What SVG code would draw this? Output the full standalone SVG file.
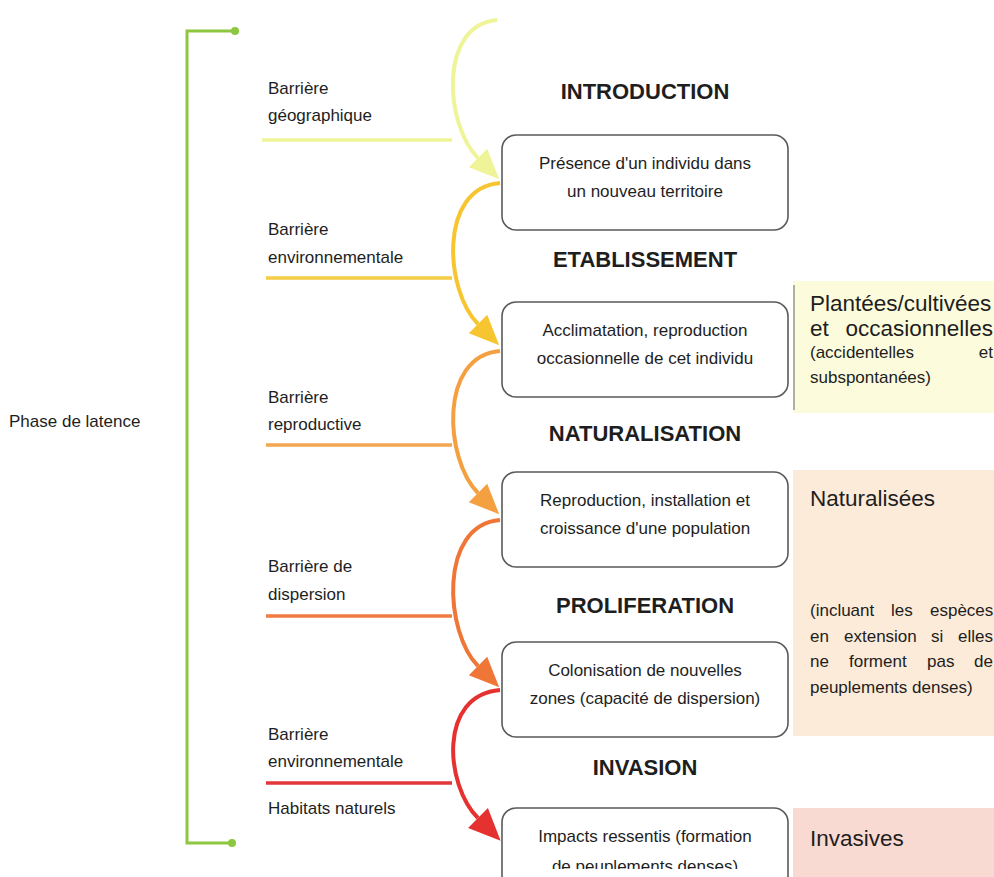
<svg xmlns="http://www.w3.org/2000/svg" width="994" height="877" viewBox="0 0 994 877">
<style>
  .lbl{font-family:"Liberation Sans",Arial,sans-serif;font-size:17px;fill:#1e1e1e}
  .hd{font-family:"Liberation Sans",Arial,sans-serif;font-size:22px;font-weight:bold;fill:#1e1e1e;text-anchor:middle}
  .bx{font-family:"Liberation Sans",Arial,sans-serif;font-size:17px;fill:#1e1e1e;text-anchor:middle}
  .big{font-family:"Liberation Sans",Arial,sans-serif;font-size:22.5px;fill:#1e1e1e}
  .box{fill:#ffffff;stroke:#5a5a5a;stroke-width:1.6}
  .arc{fill:none;stroke-width:4}
  .bar{fill:none;stroke-width:3.5}
</style>
<defs>
  <marker id="a1" markerUnits="userSpaceOnUse" markerWidth="32" markerHeight="28" refX="0" refY="0" orient="auto" overflow="visible"><path d="M0,-13 L30,0 L0,13 z" fill="#eef497"/></marker>
  <marker id="a2" markerUnits="userSpaceOnUse" markerWidth="32" markerHeight="28" refX="0" refY="0" orient="auto" overflow="visible"><path d="M0,-13 L30,0 L0,13 z" fill="#f6c530"/></marker>
  <marker id="a3" markerUnits="userSpaceOnUse" markerWidth="32" markerHeight="28" refX="0" refY="0" orient="auto" overflow="visible"><path d="M0,-13 L30,0 L0,13 z" fill="#f5a040"/></marker>
  <marker id="a4" markerUnits="userSpaceOnUse" markerWidth="32" markerHeight="28" refX="0" refY="0" orient="auto" overflow="visible"><path d="M0,-13 L30,0 L0,13 z" fill="#ef7637"/></marker>
  <marker id="a5" markerUnits="userSpaceOnUse" markerWidth="32" markerHeight="28" refX="0" refY="0" orient="auto" overflow="visible"><path d="M0,-14 L32,0 L0,14 z" fill="#e5312f"/></marker>
  <clipPath id="cut"><rect x="0" y="0" width="994" height="869"/></clipPath>
</defs>
<rect width="994" height="877" fill="#ffffff"/>

<!-- right panels -->
<g id="panel-plantees">
  <rect x="793" y="281" width="201" height="132" fill="#fcfcdc"/>
  <line x1="794" y1="285" x2="794" y2="410" stroke="#b0b0a0" stroke-width="2"/>
  <text class="big" x="810" y="311">Plantées/cultivées</text>
  <text class="big" x="810" y="336">et</text>
  <text class="big" x="993" y="336" text-anchor="end">occasionnelles</text>
  <text class="lbl" x="810" y="358">(accidentelles</text>
  <text class="lbl" x="993" y="358" text-anchor="end">et</text>
  <text class="lbl" x="810" y="383">subspontanées)</text>
</g>
<g id="panel-naturalisees">
  <rect x="793" y="470" width="201" height="266" fill="#fcebd8"/>
  <text class="big" x="810" y="506">Naturalisées</text>
  <text class="lbl" y="616"><tspan x="810">(incluant</tspan><tspan x="891">les</tspan><tspan x="930">espèces</tspan></text>
  <text class="lbl" y="642"><tspan x="810">en</tspan><tspan x="844">extension</tspan><tspan x="931">si</tspan><tspan x="958">elles</tspan></text>
  <text class="lbl" y="667"><tspan x="810">ne</tspan><tspan x="849">forment</tspan><tspan x="927">pas</tspan><tspan x="974">de</tspan></text>
  <text class="lbl" x="810" y="693">peuplements denses)</text>
</g>
<g id="panel-invasives">
  <rect x="793" y="808" width="201" height="69" fill="#f9dad2"/>
  <text class="big" x="810" y="846">Invasives</text>
</g>

<!-- bracket -->
<g id="phase-latence">
  <path d="M235,31 H187 V843 H232" fill="none" stroke="#8dc63f" stroke-width="3"/>
  <circle cx="235" cy="31" r="4" fill="#8dc63f"/>
  <circle cx="232" cy="843" r="4" fill="#8dc63f"/>
  <text class="lbl" x="9" y="427">Phase de latence</text>
</g>

<!-- connectors -->
<g id="connectors">
  <path class="bar" d="M262,140 H452" stroke="#eef497"/>
  <path class="bar" d="M266,278 H452" stroke="#f4cd45"/>
  <path class="bar" d="M266,445 H452" stroke="#f4a650"/>
  <path class="bar" d="M266,616 H452" stroke="#ef7c40"/>
  <path class="bar" d="M266,783 H452" stroke="#e3363a" stroke-width="4.5"/>
  <path class="arc" d="M497,20 C438,25 445,125 478,158" stroke="#eef497" marker-end="url(#a1)"/>
  <path class="arc" d="M500,183 C438,188 445,291 478,324" stroke="#f6c530" marker-end="url(#a2)"/>
  <path class="arc" d="M500,351 C438,356 445,460 478,493" stroke="#f5a040" marker-end="url(#a3)"/>
  <path class="arc" d="M500,520 C438,525 445,633 478,666" stroke="#ef7637" marker-end="url(#a4)"/>
  <path class="arc" d="M500,690 C438,695 445,785 478,818" stroke="#e5312f" stroke-width="5" marker-end="url(#a5)"/>
</g>

<!-- barrier labels -->
<g id="barriere-geographique"><text class="lbl" x="268" y="94">Barrière</text><text class="lbl" x="268" y="121">géographique</text></g>
<g id="barriere-environnementale-1"><text class="lbl" x="268" y="235">Barrière</text><text class="lbl" x="268" y="263">environnementale</text></g>
<g id="barriere-reproductive"><text class="lbl" x="268" y="403">Barrière</text><text class="lbl" x="268" y="430">reproductive</text></g>
<g id="barriere-dispersion"><text class="lbl" x="268" y="572">Barrière de</text><text class="lbl" x="268" y="600">dispersion</text></g>
<g id="barriere-environnementale-2"><text class="lbl" x="268" y="740">Barrière</text><text class="lbl" x="268" y="767">environnementale</text><text class="lbl" x="268" y="814">Habitats naturels</text></g>

<!-- stages -->
<g id="introduction">
  <text class="hd" x="645" y="99">INTRODUCTION</text>
  <rect class="box" x="502" y="135" width="286" height="95" rx="14"/>
  <text class="bx" x="645" y="169">Présence d'un individu dans</text>
  <text class="bx" x="645" y="197">un nouveau territoire</text>
</g>
<g id="etablissement">
  <text class="hd" x="645" y="267">ETABLISSEMENT</text>
  <rect class="box" x="502" y="302" width="286" height="95" rx="14"/>
  <text class="bx" x="645" y="336">Acclimatation, reproduction</text>
  <text class="bx" x="645" y="364">occasionnelle de cet individu</text>
</g>
<g id="naturalisation">
  <text class="hd" x="645" y="441">NATURALISATION</text>
  <rect class="box" x="502" y="472" width="286" height="95" rx="14"/>
  <text class="bx" x="645" y="506">Reproduction, installation et</text>
  <text class="bx" x="645" y="534">croissance d'une population</text>
</g>
<g id="proliferation">
  <text class="hd" x="645" y="613">PROLIFERATION</text>
  <rect class="box" x="502" y="642" width="286" height="95" rx="14"/>
  <text class="bx" x="645" y="676">Colonisation de nouvelles</text>
  <text class="bx" x="645" y="704">zones (capacité de dispersion)</text>
</g>
<g id="invasion">
  <text class="hd" x="645" y="775">INVASION</text>
  <rect class="box" x="502" y="808" width="286" height="100" rx="14"/>
  <text class="bx" x="645" y="842">Impacts ressentis (formation</text>
  <text class="bx" x="645" y="872" clip-path="url(#cut)">de peuplements denses)</text>
</g>
</svg>
